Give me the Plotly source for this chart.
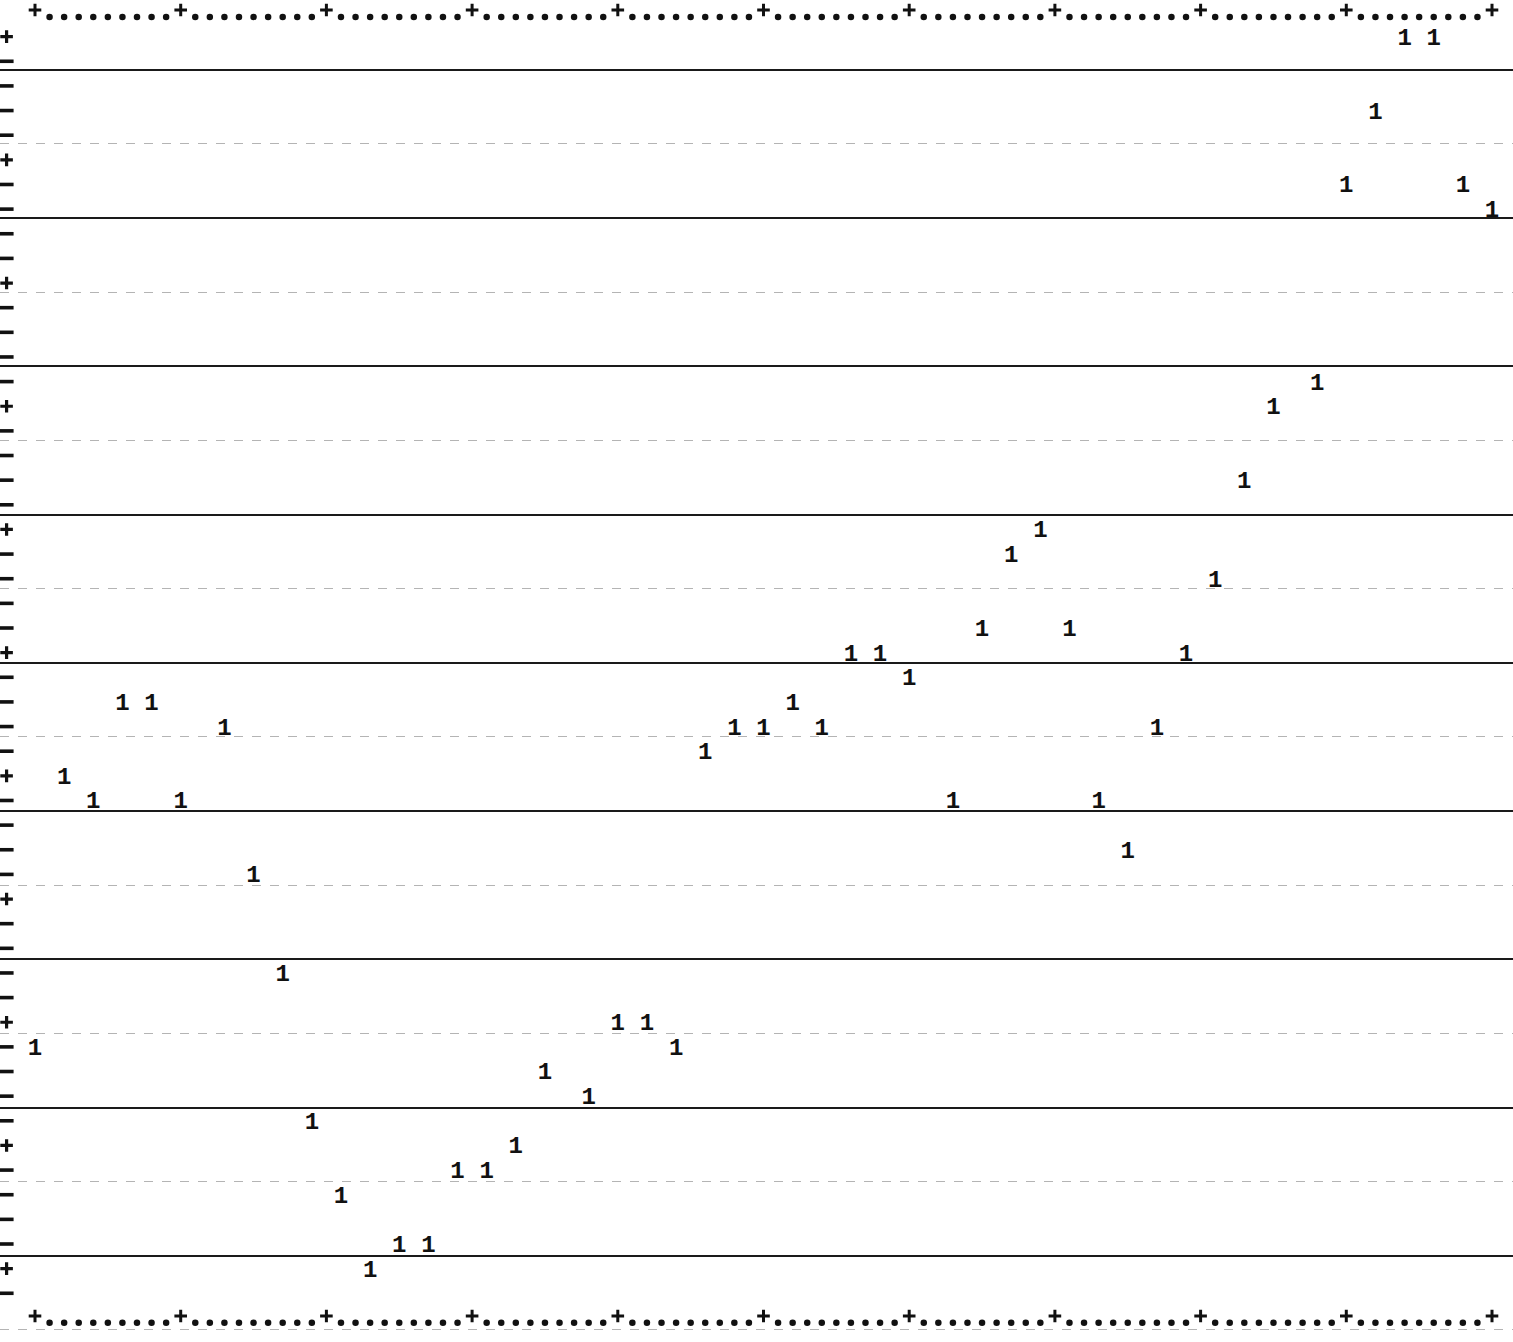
import plotly.graph_objects as go

# Series 1: character column (time step) and print row of each plotted "1"
cols = [0, 2, 4, 6, 8, 10, 13, 15, 17, 19, 21, 23, 25, 27, 29, 31, 33, 35,
        38, 40, 42, 44, 46, 48, 50, 52, 54, 56, 58, 60, 63, 65, 67, 69, 71,
        73, 75, 77, 79, 81, 83, 85, 88, 90, 92, 94, 96, 98, 100]
rows = [42, 31, 32, 28, 28, 32, 29, 35, 39, 45, 48, 51, 50, 50, 47, 47, 46, 43,
        44, 41, 41, 42, 30, 29, 29, 28, 29, 26, 26, 27, 32, 25, 22, 21, 25,
        32, 34, 29, 26, 23, 19, 16, 15, 7, 4, 1, 1, 7, 8]
symbol_char = "1"

# Printer frame: 100 columns wide, border rows 0 and 53
N_COLS = 100
TOP_ROW, BOTTOM_ROW = 0, 53
COL_MAJOR = 10
ROW_MAJOR = 5
FIRST_ROW_TICK = 1
LEFT_TICK_COL = -1.95

# Ruled lines of the listing paper (in print rows)
RULE_START, RULE_STEP = 2.343, 6.017

INK = "#111111"
DOT_DROP = 0.2     # "." sits on the baseline of its print row
PLUS_LIFT = -0.08
TEXT_DROP = 0.08   # centre the digit glyph on its print row

fig = go.Figure()

# Border rows: "+" every 10 columns, "." in between
dot_cols = [c for c in range(N_COLS + 1) if c % COL_MAJOR]
plus_cols = [c for c in range(N_COLS + 1) if c % COL_MAJOR == 0]
for r in (TOP_ROW, BOTTOM_ROW):
    fig.add_trace(go.Scatter(
        x=dot_cols, y=[r + DOT_DROP] * len(dot_cols), mode="markers",
        marker=dict(symbol="circle", size=6.5, color=INK), hoverinfo="skip"))
    fig.add_trace(go.Scatter(
        x=plus_cols, y=[r + PLUS_LIFT] * len(plus_cols), mode="markers",
        marker=dict(symbol="cross-thin", size=9, line=dict(width=3, color=INK)),
        hoverinfo="skip"))

# Left edge tick column: "+" every 5 rows, "-" otherwise
inner_rows = list(range(TOP_ROW + 1, BOTTOM_ROW))
plus_rows = [r for r in inner_rows if (r - FIRST_ROW_TICK) % ROW_MAJOR == 0]
dash_rows = [r for r in inner_rows if (r - FIRST_ROW_TICK) % ROW_MAJOR]
fig.add_trace(go.Scatter(
    x=[LEFT_TICK_COL] * len(plus_rows), y=plus_rows, mode="markers",
    marker=dict(symbol="cross-thin", size=9, line=dict(width=3.2, color=INK)),
    hoverinfo="skip"))
fig.add_trace(go.Scatter(
    x=[LEFT_TICK_COL] * len(dash_rows), y=dash_rows, mode="markers",
    marker=dict(symbol="line-ew", size=10, line=dict(width=3.6, color=INK)),
    hoverinfo="skip"))

# Series 1 plotted as "1" characters
fig.add_trace(go.Scatter(
    x=cols, y=[r + TEXT_DROP for r in rows], mode="text",
    text=[symbol_char] * len(cols), textposition="middle center",
    textfont=dict(family="Liberation Mono, Courier New, monospace", size=24,
                  color=INK, weight="bold"),
    name="1"))

PX_PER_COL = 14.57
PX_PER_ROW = 24.64
W, H = 1513, 1342
x0_px, y0_px = 35, 12
x_range = [-x0_px / PX_PER_COL, (W - x0_px) / PX_PER_COL]
y_range = [(H - y0_px) / PX_PER_ROW, -y0_px / PX_PER_ROW]

fig.update_layout(
    width=W, height=H, margin=dict(l=0, r=0, t=0, b=0),
    paper_bgcolor="white", plot_bgcolor="white", showlegend=False,
    xaxis=dict(range=x_range, showgrid=False, zeroline=False,
               showticklabels=False, ticks="", showline=False),
    yaxis=dict(range=y_range, tickmode="linear", tick0=RULE_START, dtick=RULE_STEP,
               showgrid=True, gridcolor="#1a1a1a", gridwidth=2,
               zeroline=False, showticklabels=False, ticks="", showline=False,
               minor=dict(tick0=RULE_START, dtick=RULE_STEP / 2, showgrid=True,
                          gridcolor="#b4b4b4", gridwidth=1, griddash="dash",
                          ticks="")),
)

fig.write_html("out.html")
